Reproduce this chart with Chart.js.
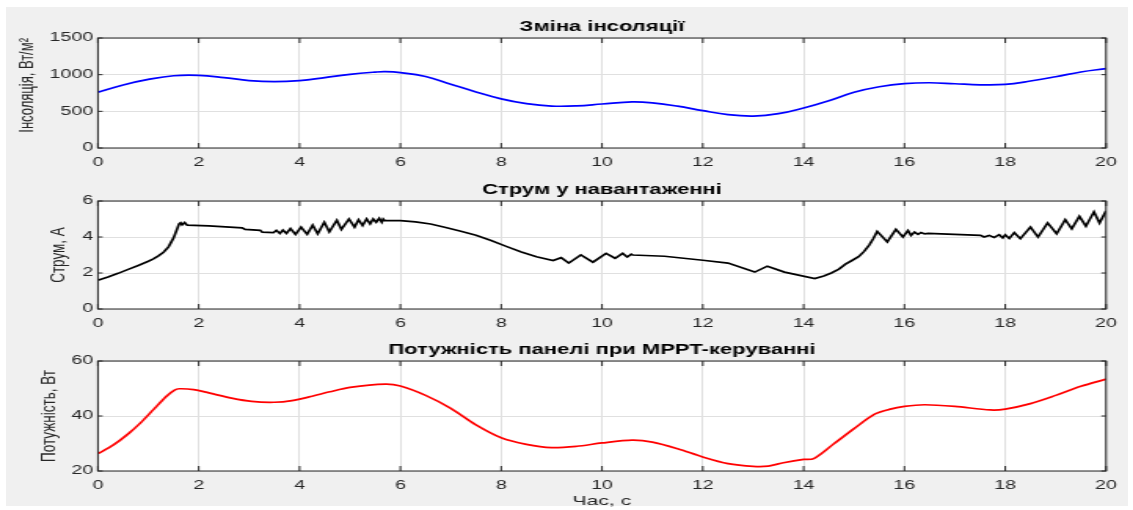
<!DOCTYPE html>
<html>
<head>
<meta charset="utf-8">
<script src="https://cdn.jsdelivr.net/npm/chart.js@4.4.1/dist/chart.umd.min.js"></script>
<style>
  body { margin: 0; background: #fff; width: 1133px; height: 510px; overflow: hidden; position: relative; }
  #bg { position: absolute; left: 6px; top: 7px; width: 1122px; height: 499px; background: #f0f0f0; }
  /* the reference figure is stretched sideways, so each panel is drawn narrow and scaled */
  .panel { position: absolute; left: 0; width: 722px; height: 170px; transform: scaleX(1.5693); transform-origin: 0 0; }
</style>
</head>
<body>
<div id="bg"></div>
<div class="panel" style="top:0"><canvas id="insChart" width="722" height="170"></canvas></div>
<div class="panel" style="top:170px"><canvas id="curChart" width="722" height="170"></canvas></div>
<div class="panel" style="top:340px"><canvas id="powChart" width="722" height="170"></canvas></div>

<script>
// time axis ticks (s)
const xTicks = [0, 2, 4, 6, 8, 10, 12, 14, 16, 18, 20];

// insolation, W/m2
const insTicks = [0, 500, 1000, 1500];
const insTime = [0, 0.5, 1, 1.5, 2, 2.5, 3, 3.5, 4, 4.5, 5, 5.5, 5.7, 6, 6.5, 7, 7.5, 8, 8.5, 9, 9.5,
  10, 10.6, 11, 11.5, 12, 12.5, 13, 13.5, 14, 14.5, 15, 15.5, 16, 16.5, 17, 17.5, 18, 18.5, 19, 19.5, 20];
const insolation = [760, 860, 935, 985, 990, 960, 920, 905, 920, 960, 1005, 1035, 1041, 1028, 975, 870, 765, 670, 605, 572, 575,
  600, 628, 615, 570, 509, 455, 436, 468, 546, 645, 760, 835, 878, 890, 876, 862, 867, 913, 972, 1037, 1083];

// load current, A
const curTime = [0, 0.2, 0.4, 0.6, 0.8, 1.0, 1.1, 1.2, 1.3, 1.4, 1.5, 1.55, 1.61, 1.64, 1.67, 1.72, 1.77, 2.2, 2.86, 2.92,
  3.22, 3.26, 3.48, 3.54, 3.61, 3.67, 3.74, 3.82, 3.92, 4.03, 4.15, 4.26, 4.36, 4.49, 4.59, 4.74, 4.83, 4.98, 5.09,
  5.17, 5.25, 5.33, 5.40, 5.46, 5.52, 5.58, 5.63, 5.66, 5.69, 6.0, 6.3, 6.6, 6.9, 7.2, 7.5, 7.8, 8.1, 8.4, 8.7, 9.03,
  9.19, 9.34, 9.58, 9.82, 10.08, 10.26, 10.41, 10.5, 10.58, 10.61, 11.24, 12.0, 12.5, 13.03, 13.28, 13.62, 14.22,
  14.4, 14.55, 14.7, 14.83, 14.95, 15.09, 15.2, 15.3, 15.38, 15.46, 15.66, 15.83, 15.97, 16.07, 16.13, 16.2, 16.27,
  16.33, 16.4, 16.47, 17.51, 17.58, 17.68, 17.78, 17.88, 17.95, 18.0, 18.08, 18.18, 18.3, 18.5, 18.65, 18.84, 19.02,
  19.19, 19.32, 19.47, 19.6, 19.76, 19.87, 20];
const current = [1.6, 1.78, 1.98, 2.2, 2.42, 2.65, 2.78, 2.95, 3.15, 3.45, 3.95, 4.3, 4.73, 4.79, 4.68, 4.8, 4.66, 4.62, 4.51, 4.42,
  4.37, 4.27, 4.24, 4.37, 4.2, 4.38, 4.2, 4.47, 4.15, 4.55, 4.15, 4.66, 4.18, 4.82, 4.29, 4.93, 4.42, 5.0, 4.55,
  4.96, 4.64, 5.0, 4.73, 5.0, 4.82, 5.04, 4.82, 5.0, 4.91, 4.91, 4.84, 4.72, 4.53, 4.32, 4.1, 3.8, 3.48, 3.17, 2.9, 2.69,
  2.85, 2.55, 3.0, 2.6, 3.09, 2.82, 3.09, 2.89, 3.05, 3.0, 2.93, 2.71, 2.55, 2.05, 2.38, 2.05, 1.69,
  1.83, 2.0, 2.22, 2.49, 2.68, 2.91, 3.2, 3.55, 3.9, 4.31, 3.73, 4.42, 4.0, 4.36, 4.09, 4.27, 4.15,
  4.25, 4.17, 4.2, 4.09, 4.0, 4.09, 3.98, 4.13, 3.95, 4.12, 3.92, 4.24, 3.91, 4.55, 4.0, 4.78, 4.18,
  4.96, 4.45, 5.15, 4.6, 5.4, 4.78, 5.45];
const curTicks = [0, 2, 4, 6];

// panel power, W
const powTicks = [20, 40, 60];
const powTime = [0, 0.3, 0.6, 0.85, 1.1, 1.36, 1.52, 1.61, 1.9, 2.2, 2.65, 3.05, 3.5, 3.85, 4.25, 4.6, 5.0, 5.7, 6, 6.5,
  7, 7.5, 8, 8.5, 9, 9.5, 10, 10.6, 11, 11.5, 12, 12.5, 13, 13.3, 13.6, 14, 14.2, 14.6, 15, 15.4, 15.7, 16, 16.4,
  17, 17.7, 18, 18.5, 19, 19.5, 20];
const power = [26.3, 29.4, 33.5, 37.6, 42.3, 47.2, 49.4, 49.9, 49.6, 48.4, 46.5, 45.3, 45.0, 45.6, 47.2, 48.8, 50.4, 51.6, 50.9, 47.5,
  42.8, 36.8, 32.1, 29.7, 28.5, 29.0, 30.2, 31.2, 30.5, 28.1, 25.1, 22.7, 21.7, 21.8, 23.0, 24.2, 24.5, 29.9, 35.4, 40.6, 42.4, 43.5, 44.1,
  43.5, 42.2, 42.5, 44.5, 47.5, 50.8, 53.4];

const FONT = '"Liberation Sans", Arial, sans-serif';
const NARROW = '"Liberation Sans Narrow", "Arial Narrow", "Liberation Sans", sans-serif';
const TXT = '#262626';
const GRID = '#e0e0e0';

// white axes box, dark frame and inward ticks on all four sides
const matlabAxes = {
  id: 'matlabAxes',
  beforeDraw(chart) {
    const { ctx, chartArea: a } = chart;
    ctx.save();
    ctx.fillStyle = '#fff';
    ctx.fillRect(a.left, a.top, a.right - a.left, a.bottom - a.top);
    ctx.restore();
  },
  afterDraw(chart) {
    const { ctx, chartArea: a, scales } = chart;
    ctx.save();
    ctx.strokeStyle = TXT;
    ctx.lineWidth = 1;
    ctx.beginPath();
    scales.x.ticks.forEach(t => {
      const px = scales.x.getPixelForValue(t.value);
      ctx.moveTo(px, a.bottom); ctx.lineTo(px, a.bottom - 5);
      ctx.moveTo(px, a.top); ctx.lineTo(px, a.top + 5);
    });
    scales.y.ticks.forEach(t => {
      const py = scales.y.getPixelForValue(t.value);
      ctx.moveTo(a.left, py); ctx.lineTo(a.left + 3, py);
      ctx.moveTo(a.right, py); ctx.lineTo(a.right - 3, py);
    });
    ctx.stroke();
    ctx.strokeRect(a.left, a.top, a.right - a.left, a.bottom - a.top);
    ctx.restore();
  }
};

function makePanel(id, o) {
  return new Chart(document.getElementById(id), {
    type: 'line',
    data: {
      datasets: [{
        data: o.t.map((x, i) => ({ x: x, y: o.v[i] })),
        borderColor: o.color,
        borderWidth: 1.7,
        pointRadius: 0,
        tension: o.tension
      }]
    },
    options: {
      responsive: false,
      animation: false,
      devicePixelRatio: 1,
      layout: { padding: { left: 0, right: 17.2, top: 0, bottom: 0 } },
      plugins: {
        legend: { display: false },
        tooltip: { enabled: false },
        title: {
          display: true, text: o.title, fullSize: false, color: '#000',
          font: { family: FONT, size: 14, weight: 'bold' },
          padding: { top: o.titleTop, bottom: 2.6 }
        }
      },
      scales: {
        x: {
          type: 'linear', min: 0, max: 20,
          afterBuildTicks: s => { s.ticks = xTicks.map(v => ({ value: v })); },
          afterFit: s => { s.height = o.xH; },
          grid: { color: GRID, drawTicks: false },
          border: { display: false },
          ticks: { padding: 7, color: TXT, maxRotation: 0, autoSkip: false, font: { family: FONT, size: 12.5 }, callback: v => String(v) },
          title: o.xTitle
            ? { display: true, text: o.xTitle, color: TXT, font: { family: FONT, size: 13.5 }, padding: { top: 0, bottom: 0.9 } }
            : { display: false }
        },
        y: {
          min: o.yTicks[0], max: o.yTicks[o.yTicks.length - 1],
          afterBuildTicks: s => { s.ticks = o.yTicks.map(v => ({ value: v })); },
          afterFit: s => { s.width = 62.4; },
          grid: { color: GRID, drawTicks: false },
          border: { display: false },
          ticks: { padding: 3, color: TXT, autoSkip: false, font: { family: FONT, size: 12.5 }, callback: v => String(v) },
          title: {
            display: true, text: o.yTitle, align: o.yAlign, color: TXT,
            font: { family: o.yFont, size: o.ySize },
            padding: { top: o.yPad, bottom: 0 }
          }
        }
      }
    },
    plugins: [matlabAxes]
  });
}

makePanel('insChart', {
  t: insTime, v: insolation, color: '#0000ff', tension: 0.4,
  title: 'Зміна інсоляції', titleTop: 18.6, xH: 22,
  yTicks: insTicks, yTitle: 'Інсоляція, Вт/м²', yAlign: 'end', yFont: NARROW, ySize: 13, yPad: 9.9
});

makePanel('curChart', {
  t: curTime, v: current, color: '#000000', tension: 0,
  title: 'Струм у навантаженні', titleTop: 11.6, xH: 31,
  yTicks: curTicks, yTitle: 'Струм, А', yAlign: 'center', yFont: NARROW, ySize: 13.5, yPad: 29.2
});

makePanel('powChart', {
  t: powTime, v: power, color: '#ff0000', tension: 0.3,
  title: 'Потужність панелі при MPPT-керуванні', titleTop: 1.6, xH: 39,
  yTicks: powTicks, yTitle: 'Потужність, Вт', yAlign: 'center', yFont: FONT, ySize: 13.5, yPad: 23.1,
  xTitle: 'Час, с'
});
</script>
</body>
</html>
